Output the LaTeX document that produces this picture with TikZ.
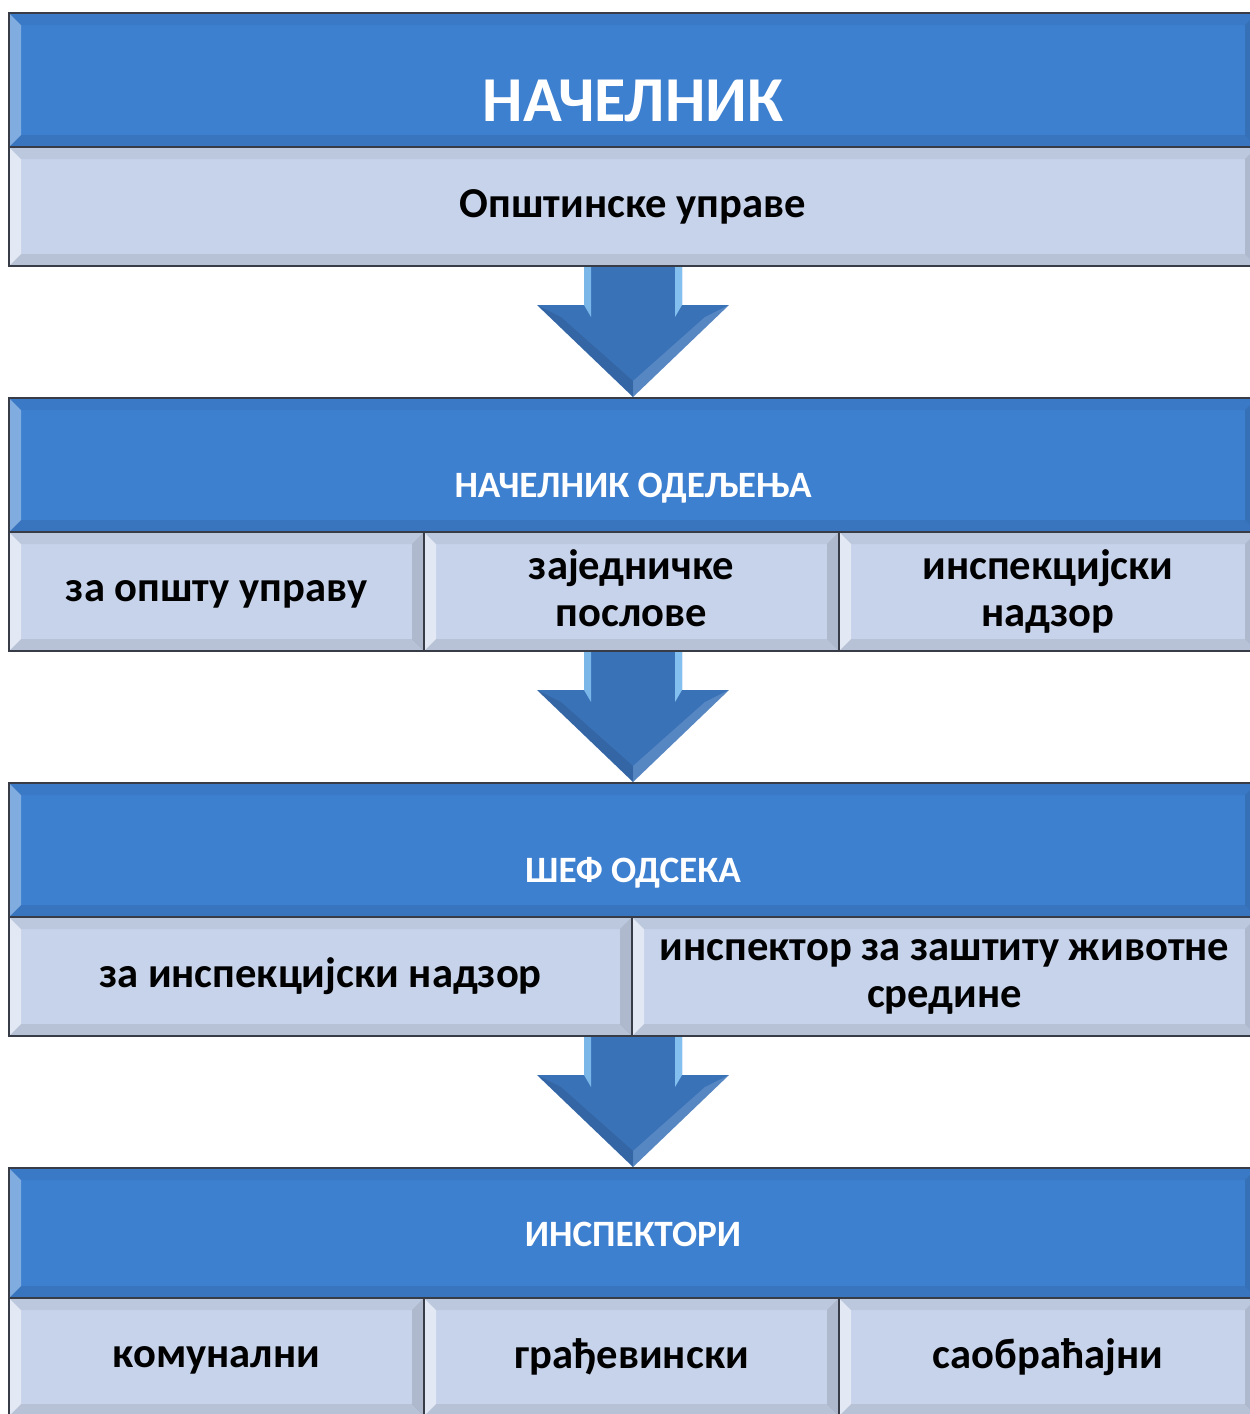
\documentclass[tikz,border=0pt]{standalone}
\usepackage{fontspec}
\setmainfont{Carlito}
\usetikzlibrary{calc}
\usetikzlibrary{positioning}

\definecolor{hdblue}{RGB}{62,128,208}
\definecolor{lightfill}{RGB}{199,211,234}
\definecolor{arrowblue}{RGB}{58,114,184}
\definecolor{edgegrey}{RGB}{55,60,70}
\definecolor{shaftlight}{RGB}{140,200,245}

\newcommand{\boxstrut}{\rule[-3pt]{0pt}{16.5pt}}

\tikzset{
  bevel/.style={path picture={
    \fill[white,opacity=#1] (path picture bounding box.north west) -- (path picture bounding box.south west)
      -- ([shift={(12,-12)}]path picture bounding box.south west) -- ([shift={(12,12)}]path picture bounding box.north west) -- cycle;
    \fill[black,opacity=.05] (path picture bounding box.north west) -- (path picture bounding box.north east)
      -- ([shift={(-12,12)}]path picture bounding box.north east) -- ([shift={(12,12)}]path picture bounding box.north west) -- cycle;
    \fill[black,opacity=.12] (path picture bounding box.north east) -- (path picture bounding box.south east)
      -- ([shift={(-12,-12)}]path picture bounding box.south east) -- ([shift={(-12,12)}]path picture bounding box.north east) -- cycle;
    \fill[black,opacity=.08] (path picture bounding box.south west) -- (path picture bounding box.south east)
      -- ([shift={(-12,-12)}]path picture bounding box.south east) -- ([shift={(12,-12)}]path picture bounding box.south west) -- cycle;
  }},
  hdbox/.style={draw=edgegrey, line width=1pt, fill=hdblue, anchor=north west, inner sep=0pt,
    minimum width=624pt, minimum height=67pt, bevel=.35},
  hdtext/.style={text=white, font=\bfseries\fontsize{18.6}{20}\selectfont},
  subbox/.style={draw=edgegrey, line width=1pt, fill=lightfill, anchor=north west, inner sep=0pt,
    minimum height=59.5pt, align=center, font=\bfseries\fontsize{21.3}{23.5}\selectfont, bevel=.5,
    execute at begin node=\boxstrut, execute at end node=\boxstrut},
}

\begin{document}
\begin{tikzpicture}[x=0.5pt,y=-0.5pt]
  \useasboundingbox (0,0) rectangle (1249,1414);

  % nacelnik
  \node[hdbox] (n1) at (8,12) {};
  \node[hdtext,font=\bfseries\fontsize{32}{36}\selectfont] (t1) at ($(n1.center)+(0,21)$) {НАЧЕЛНИК};
  \node[subbox,minimum width=624pt] (u1) at (8,146) {Општинске управе};

  % odeljenje
  \node[hdbox] (n2) at (8,397) {};
  \node[hdtext] (t2) at ($(n2.center)+(0,23)$) {НАЧЕЛНИК ОДЕЉЕЊА};
  \node[subbox,minimum width=207.5pt] (a1) at (8,531) {за општу управу};
  \node[subbox,minimum width=207.5pt] (a2) at (423,531) {заједничке\\послове};
  \node[subbox,minimum width=209pt] (a3) at (838,531) {инспекцијски\\надзор};

  % odsek
  \node[hdbox] (n3) at (8,782) {};
  \node[hdtext] (t3) at ($(n3.center)+(0,23)$) {ШЕФ ОДСЕКА};
  \node[subbox,minimum width=311.5pt] (b1) at (8,916) {за инспекцијски надзор};
  \node[subbox,minimum width=312.5pt] (b2) at (631,916) {инспектор за заштиту животне\\средине};

  % inspektori
  \node[hdbox,minimum height=65pt] (n4) at (8,1167) {};
  \node[hdtext] (t4) at ($(n4.center)+(0,1)$) {ИНСПЕКТОРИ};
  \node[subbox,minimum width=207.5pt,minimum height=59pt] (c1) at (8,1297) {комунални};
  \node[subbox,minimum width=207.5pt,minimum height=59pt] (c2) at (423,1297) {грађевински};
  \node[subbox,minimum width=209pt,minimum height=59pt] (c3) at (838,1297) {саобраћајни};

  % arrows
  \foreach \src/\dst in {u1/n2, a2/n3, b1/n4} {
    \coordinate (s) at (\dst.north |- \src.south);
    \fill[arrowblue] ($(s)+(-49,0)$) -- ($(s)+(49,0)$) -- ($(s)+(49,38)$) -- ($(s)+(96,38)$)
      -- (\dst.north) -- ($(s)+(-96,38)$) -- ($(s)+(-49,38)$) -- cycle;
    \fill[white,opacity=.15] ($(s)+(96,38)$) -- (\dst.north) -- ($(s)+(0,114)$) -- ($(s)+(72,50)$) -- cycle;
    \fill[black,opacity=.1] ($(s)+(-96,38)$) -- (\dst.north) -- ($(s)+(0,114)$) -- ($(s)+(-72,50)$) -- cycle;
    \fill[shaftlight,opacity=.8] ($(s)+(-49,0)$) -- ($(s)+(-42,0)$) -- ($(s)+(-42,50)$) -- ($(s)+(-49,38)$) -- cycle;
    \fill[shaftlight,opacity=.9] ($(s)+(49,0)$) -- ($(s)+(42,0)$) -- ($(s)+(42,50)$) -- ($(s)+(49,38)$) -- cycle;
  }
\end{tikzpicture}
\end{document}
